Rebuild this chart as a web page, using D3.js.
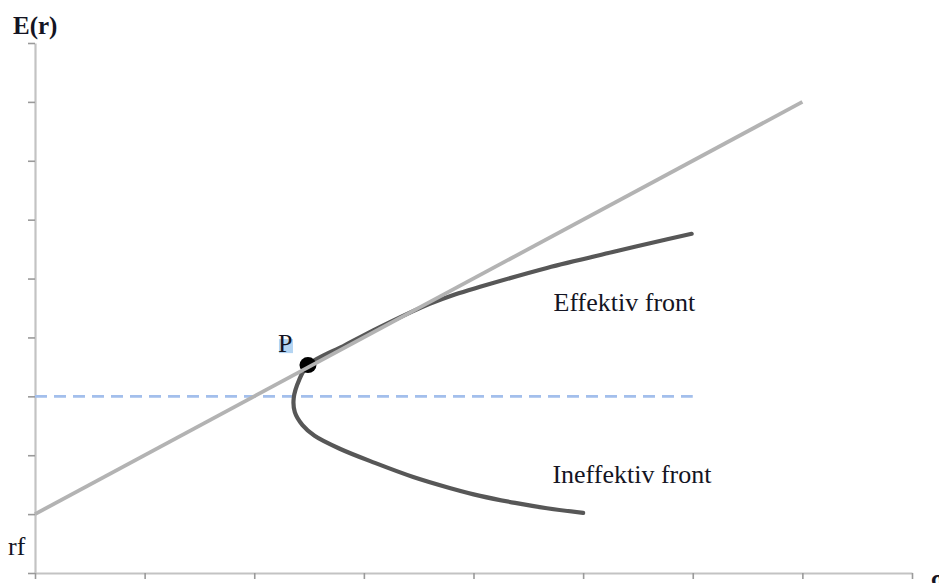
<!DOCTYPE html>
<html><head><meta charset="utf-8">
<script src="https://cdn.jsdelivr.net/npm/d3@7"></script>
<style>body{margin:0;background:#fff}svg{display:block}text{font-family:"Liberation Serif","Times New Roman",serif;fill:#141423}</style>
</head><body><svg id="c" width="939" height="583"></svg>
<script>
// Data (chart units)
const xTicks = [0,1,2,3,4,5,6,7,8];
const yTicks = [0,1,2,3,4,5,6,7,8,9];
const cmlSigma = [0, 7];
const cmlReturn = [1, 8];
const dashSigma = [0, 6];
const dashReturn = [3, 3];
const frontSigma = [5.99,5.61,5.27,4.67,4.06,3.83,3.60,3.15,2.83,2.49,2.41,2.36,2.37,2.44,2.55,2.78,3.10,3.45,3.79,4.06,4.38,4.67,5.00];
const frontReturn = [5.76,5.60,5.45,5.18,4.86,4.73,4.57,4.18,3.87,3.53,3.28,2.97,2.73,2.51,2.33,2.11,1.87,1.63,1.44,1.31,1.19,1.10,1.02];
const pointP = {sigma: 2.49, ret: 3.53, label: "P"};
const labels = [
  {text:"Effektiv front", sigma:4.73, ret:4.45},
  {text:"Ineffektiv front", sigma:4.72, ret:1.53}
];

const svg = d3.select("#c");
const x = d3.scaleLinear().domain([0,8]).range([35,912]);
const y = d3.scaleLinear().domain([0,9]).range([573,43]);

// axes
const gy = svg.append("g").attr("transform","translate(35,0)")
  .call(d3.axisLeft(y).tickValues(yTicks).tickSize(7).tickSizeOuter(0).tickFormat(""));
const gx = svg.append("g").attr("transform","translate(0,573)")
  .call(d3.axisBottom(x).tickValues(xTicks).tickSize(6).tickSizeOuter(0).tickFormat(""));
[gx,gy].forEach(g=>{
  g.select(".domain").attr("stroke","#c3c3c3").attr("stroke-width",2.2);
  g.selectAll(".tick line").attr("stroke","#9a9a9a").attr("stroke-width",1.6);
});

// dashed horizontal line
svg.append("path")
  .attr("d", d3.line().x(d=>x(d[0])).y(d=>y(d[1]))(d3.zip(dashSigma,dashReturn)))
  .attr("fill","none").attr("stroke","#a3bfec").attr("stroke-width",2.6)
  .attr("stroke-dasharray","12,7");

// frontier
svg.append("path")
  .attr("d", d3.line().curve(d3.curveCatmullRom.alpha(0.5)).x(d=>x(d[0])).y(d=>y(d[1]))(d3.zip(frontSigma,frontReturn)))
  .attr("fill","none").attr("stroke","#575757").attr("stroke-width",4.2)
  .attr("stroke-linecap","round");

// point P
svg.append("ellipse").attr("cx",x(pointP.sigma)).attr("cy",y(pointP.ret))
  .attr("rx",8.5).attr("ry",8).attr("fill","#000");

// CML
svg.append("path")
  .attr("d", d3.line().x(d=>x(d[0])).y(d=>y(d[1]))(d3.zip(cmlSigma,cmlReturn)))
  .attr("fill","none").attr("stroke","#b3b3b3").attr("stroke-width",3.8);

// P label with highlight
svg.append("rect").attr("x",x(pointP.sigma)-29).attr("y",y(pointP.ret)-26)
  .attr("width",14).attr("height",14).attr("fill","#b3d4f2");
svg.append("text").attr("x",x(pointP.sigma)-30).attr("y",y(pointP.ret)-13)
  .attr("font-size",26).text(pointP.label);

labels.forEach(l=>{
  svg.append("text").attr("x",x(l.sigma)).attr("y",y(l.ret)).attr("font-size",26).text(l.text);
});

svg.append("text").attr("x",13).attr("y",34).attr("font-size",25).attr("font-weight","bold").text("E(r)");
svg.append("text").attr("x",8).attr("y",555).attr("font-size",26).text("rf");
svg.append("text").attr("x",931).attr("y",586).attr("font-size",24).attr("font-weight","bold").text("σ");
</script></body></html>
